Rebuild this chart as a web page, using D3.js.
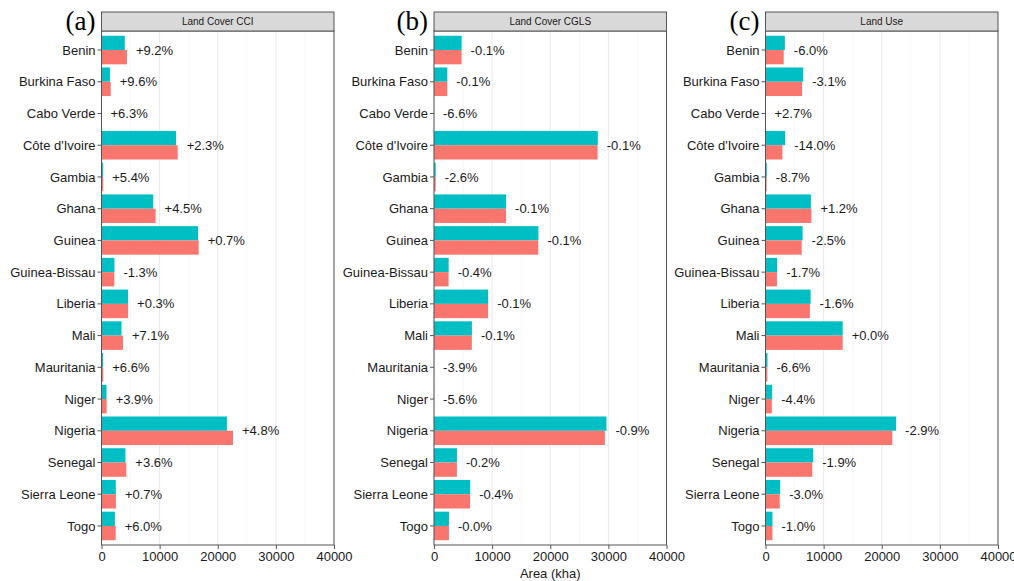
<!DOCTYPE html>
<html lang="en">
<head>
<meta charset="UTF-8">
<title>Land area by country</title>
<script src="https://d3js.org/d3.v7.min.js"></script>
<style>
  body { margin: 0; background: #fff; }
  text { font-family: "Liberation Sans", Arial, sans-serif; }
</style>
</head>
<body>
<script>
// categories
var countries = ["Benin", "Burkina Faso", "Cabo Verde", "Côte d'Ivoire", "Gambia", "Ghana", "Guinea",
  "Guinea-Bissau", "Liberia", "Mali", "Mauritania", "Niger", "Nigeria", "Senegal", "Sierra Leone", "Togo"];

var panelTitles = ["Land Cover CCI", "Land Cover CGLS", "Land Use"];
var panelTags = ["(a)", "(b)", "(c)"];
var xTicks = [0, 10000, 20000, 30000, 40000];

// teal = first period, red = second period (kha)
var cciFirst  = [4000, 1450, 5, 12820, 280, 8900, 16600, 2230, 4570, 3440, 280, 860, 21580, 4120, 2460, 2300];
var cciSecond = [4370, 1590, 5, 13110, 295, 9300, 16720, 2200, 4580, 3690, 298, 890, 22620, 4270, 2480, 2440];
var cciPct = ["+9.2%", "+9.6%", "+6.3%", "+2.3%", "+5.4%", "+4.5%", "+0.7%", "-1.3%", "+0.3%", "+7.1%", "+6.6%", "+3.9%", "+4.8%", "+3.6%", "+0.7%", "+6.0%"];

var cglsFirst  = [4750, 2290, 5, 28180, 290, 12400, 17960, 2520, 9320, 6520, 20, 15, 29670, 3950, 6230, 2570];
var cglsSecond = [4745, 2288, 5, 28150, 283, 12390, 17940, 2510, 9310, 6510, 19, 14, 29400, 3940, 6205, 2570];
var cglsPct = ["-0.1%", "-0.1%", "-6.6%", "-0.1%", "-2.6%", "-0.1%", "-0.1%", "-0.4%", "-0.1%", "-0.1%", "-3.9%", "-5.6%", "-0.9%", "-0.2%", "-0.4%", "-0.0%"];

var luFirst  = [3330, 6490, 5, 3380, 230, 7810, 6380, 2000, 7760, 13280, 340, 1140, 22470, 8210, 2520, 1200];
var luSecond = [3130, 6290, 5, 2910, 210, 7900, 6220, 1966, 7635, 13280, 318, 1090, 21820, 8050, 2445, 1190];
var luPct = ["-6.0%", "-3.1%", "+2.7%", "-14.0%", "-8.7%", "+1.2%", "-2.5%", "-1.7%", "-1.6%", "+0.0%", "-6.6%", "-4.4%", "-2.9%", "-1.9%", "-3.0%", "-1.0%"];

var panels = [
  { first: cciFirst, second: cciSecond, pct: cciPct },
  { first: cglsFirst, second: cglsSecond, pct: cglsPct },
  { first: luFirst, second: luSecond, pct: luPct }
];

var width = 1014, height = 581;
var panelLeft = [101.5, 434, 765.5];
var panelW = 232.5;
var stripTop = 12, plotTop = 31, plotBottom = 545;
var teal = "#00BFC4", red = "#F8766D";

var svg = d3.select("body").append("svg")
  .attr("width", width)
  .attr("height", height);

var y = d3.scaleBand()
  .domain(countries)
  .range([plotTop, plotBottom])
  .paddingInner(0.1)
  .paddingOuter(0.35)
  .align(0.5);

// make band step match ggplot's 0.6 expand on discrete axis
var step = (plotBottom - plotTop) / (countries.length + 0.2);
function yCenter(c) { return plotTop + step * (0.6 + countries.indexOf(c)); }
var barH = step * 0.45;

panels.forEach(function (p, k) {
  var x0 = panelLeft[k];
  var x = d3.scaleLinear().domain([0, 40000]).range([x0, x0 + panelW]);
  var g = svg.append("g");

  // panel background + grid
  g.append("rect")
    .attr("x", x0).attr("y", plotTop)
    .attr("width", panelW).attr("height", plotBottom - plotTop)
    .attr("fill", "#fff");

  var minor = [5000, 15000, 25000, 35000];
  g.selectAll(".minor").data(minor).enter().append("line")
    .attr("x1", function (d) { return x(d); })
    .attr("x2", function (d) { return x(d); })
    .attr("y1", plotTop).attr("y2", plotBottom)
    .attr("stroke", "#f2f2f2").attr("stroke-width", 0.6);
  g.selectAll(".major").data(xTicks).enter().append("line")
    .attr("x1", function (d) { return x(d); })
    .attr("x2", function (d) { return x(d); })
    .attr("y1", plotTop).attr("y2", plotBottom)
    .attr("stroke", "#ebebeb").attr("stroke-width", 1.1);

  // bars
  g.selectAll(".b1").data(countries).enter().append("rect")
    .attr("x", x(0))
    .attr("y", function (c) { return yCenter(c) - barH; })
    .attr("width", function (c, i) { return x(p.first[i]) - x(0); })
    .attr("height", barH)
    .attr("fill", teal);
  g.selectAll(".b2").data(countries).enter().append("rect")
    .attr("x", x(0))
    .attr("y", function (c) { return yCenter(c); })
    .attr("width", function (c, i) { return x(p.second[i]) - x(0); })
    .attr("height", barH)
    .attr("fill", red);

  // percent labels
  g.selectAll(".lab").data(countries).enter().append("text")
    .attr("x", function (c, i) { return x(Math.max(p.first[i], p.second[i])) + 9; })
    .attr("y", function (c) { return yCenter(c); })
    .attr("dy", "0.35em")
    .attr("font-size", 13)
    .attr("fill", "#1a1a1a")
    .text(function (c, i) { return p.pct[i]; });

  // border
  g.append("rect")
    .attr("x", x0).attr("y", plotTop)
    .attr("width", panelW).attr("height", plotBottom - plotTop)
    .attr("fill", "none").attr("stroke", "#555").attr("stroke-width", 1);

  // strip
  g.append("rect")
    .attr("x", x0).attr("y", stripTop)
    .attr("width", panelW).attr("height", plotTop - stripTop)
    .attr("fill", "#d9d9d9").attr("stroke", "#555").attr("stroke-width", 1);
  g.append("text")
    .attr("x", x0 + panelW / 2).attr("y", (stripTop + plotTop) / 2)
    .attr("dy", "0.35em").attr("text-anchor", "middle")
    .attr("font-size", 10).attr("fill", "#1a1a1a")
    .text(panelTitles[k]);

  // tag
  g.append("text")
    .attr("x", x0 - 6).attr("y", 30)
    .attr("text-anchor", "end")
    .attr("font-family", "'Liberation Serif', 'Times New Roman', serif")
    .style("font-family", "'Liberation Serif', 'Times New Roman', serif")
    .attr("font-size", 27)
    .text(panelTags[k]);

  // y axis
  var ya = g.selectAll(".yt").data(countries).enter().append("g");
  ya.append("line")
    .attr("x1", x0 - 4).attr("x2", x0)
    .attr("y1", function (c) { return yCenter(c); })
    .attr("y2", function (c) { return yCenter(c); })
    .attr("stroke", "#555");
  ya.append("text")
    .attr("x", x0 - 6)
    .attr("y", function (c) { return yCenter(c); })
    .attr("dy", "0.35em").attr("text-anchor", "end")
    .attr("font-size", 13).attr("fill", "#1a1a1a")
    .text(function (c) { return c; });

  // x axis
  var xa = g.append("g").attr("transform", "translate(0," + plotBottom + ")")
    .call(d3.axisBottom(x).tickValues(xTicks).tickFormat(d3.format("d")).tickSize(4).tickPadding(3));
  xa.select(".domain").remove();
  xa.selectAll("line").attr("stroke", "#555");
  xa.selectAll("text").attr("font-size", 13).attr("fill", "#1a1a1a")
    .attr("font-family", "'Liberation Sans', Arial, sans-serif");
});

svg.append("text")
  .attr("x", panelLeft[1] + panelW / 2).attr("y", 578)
  .attr("text-anchor", "middle")
  .attr("font-size", 13).attr("fill", "#1a1a1a")
  .text("Area (kha)");
</script>
</body>
</html>
